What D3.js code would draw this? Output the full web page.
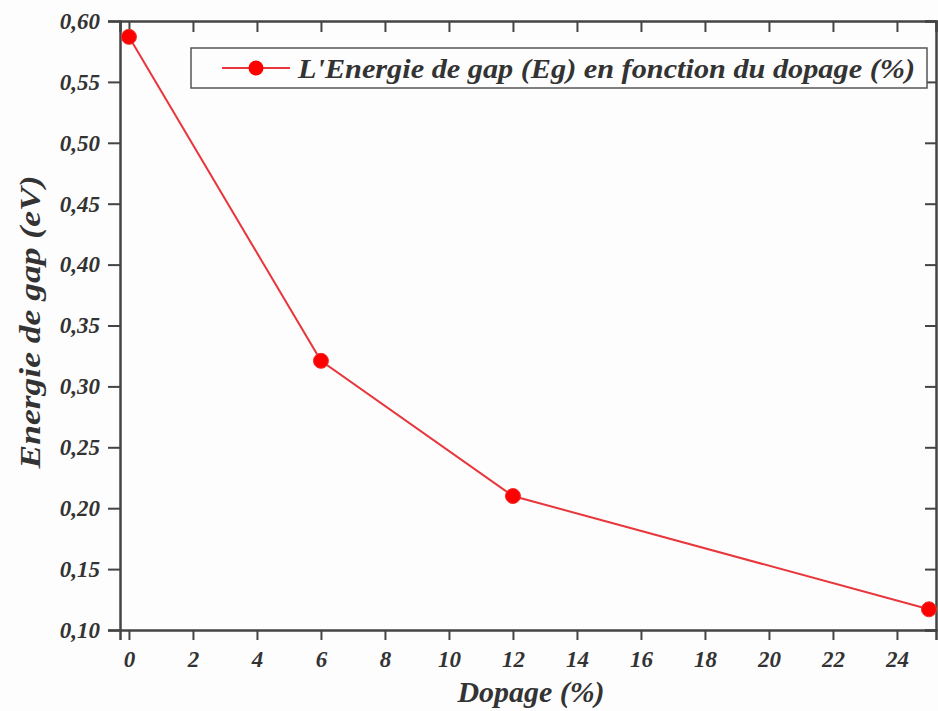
<!DOCTYPE html>
<html>
<head>
<meta charset="utf-8">
<script src="https://cdn.jsdelivr.net/npm/d3@7"></script>
<style>
body { margin: 0; background: #fdfdfd; }
text { font-family: "Liberation Serif", "Times New Roman", serif; font-weight: bold; font-style: italic; fill: #333; }
</style>
</head>
<body>
<script>
// data
var dopage = [0, 6, 12, 25];
var gap = [0.587, 0.321, 0.21, 0.117];
var xTicks = [0, 2, 4, 6, 8, 10, 12, 14, 16, 18, 20, 22, 24];
var yTicks = [0.10, 0.15, 0.20, 0.25, 0.30, 0.35, 0.40, 0.45, 0.50, 0.55, 0.60];
var legendLabel = "L'Energie de gap (Eg) en fonction du dopage (%)";

var w = 938, h = 711;
var mLeft = 120, mRight = 936, mTop = 21, mBottom = 630;

var svg = d3.select("body").append("svg")
    .attr("width", w)
    .attr("height", h);

var x = d3.scaleLinear().domain([-0.28, 25.22]).range([mLeft, mRight]);
var y = d3.scaleLinear().domain([0.10, 0.60]).range([mBottom, mTop]);

var fmt = function(d) { return d3.format(".2f")(d).replace(".", ","); };
var minorX = d3.range(1, 26, 2);
var minorY = d3.range(0.125, 0.6, 0.05);

// bottom axis
var gx = svg.append("g").attr("transform", "translate(0," + mBottom + ")");
gx.call(d3.axisBottom(x).tickValues(minorX).tickSize(6).tickFormat(""));
gx.call(d3.axisBottom(x).tickValues(xTicks).tickSize(10).tickPadding(11).tickFormat(d3.format("d")));

// left axis
var gy = svg.append("g").attr("transform", "translate(" + mLeft + ",0)");
gy.call(d3.axisLeft(y).tickValues(minorY).tickSize(6).tickFormat(""));
gy.call(d3.axisLeft(y).tickValues(yTicks).tickSize(12).tickPadding(8).tickFormat(fmt));

// top axis, ticks inward
var gt = svg.append("g").attr("transform", "translate(0," + mTop + ")");
gt.call(d3.axisBottom(x).tickValues(minorX).tickSize(6).tickFormat(""));
gt.call(d3.axisBottom(x).tickValues(xTicks).tickSize(11).tickFormat(""));

// right axis, ticks inward
var gr = svg.append("g").attr("transform", "translate(" + mRight + ",0)");
gr.call(d3.axisLeft(y).tickValues(minorY).tickSize(6).tickFormat(""));
gr.call(d3.axisLeft(y).tickValues(yTicks).tickSize(11).tickFormat(""));

svg.selectAll(".domain").attr("stroke", "#444").attr("stroke-width", 2.5);
svg.selectAll(".tick line").attr("stroke", "#444").attr("stroke-width", 2);
svg.selectAll(".tick text").attr("font-size", 23).attr("font-family", null).attr("fill", "#333");

// line and points
var line = d3.line()
    .x(function(d, i) { return x(dopage[i]); })
    .y(function(d) { return y(d); });

svg.append("path")
    .datum(gap)
    .attr("d", line)
    .attr("fill", "none")
    .attr("stroke", "#e8363c")
    .attr("stroke-width", 2);

svg.selectAll("circle.pt")
    .data(gap)
    .enter()
    .append("circle")
    .attr("class", "pt")
    .attr("cx", function(d, i) { return x(dopage[i]); })
    .attr("cy", function(d) { return y(d); })
    .attr("r", 7.5)
    .attr("fill", "#ff0000")
    .attr("stroke", "#f03030")
    .attr("stroke-width", 1);

// legend
var lg = svg.append("g");
lg.append("rect")
    .attr("x", 191).attr("y", 48)
    .attr("width", 736).attr("height", 40)
    .attr("fill", "#fdfdfd")
    .attr("stroke", "#555")
    .attr("stroke-width", 1.5);
lg.append("line")
    .attr("x1", 222).attr("x2", 290)
    .attr("y1", 68).attr("y2", 68)
    .attr("stroke", "#e8363c").attr("stroke-width", 2);
lg.append("circle")
    .attr("cx", 256).attr("cy", 68).attr("r", 7.5)
    .attr("fill", "#ff0000");
lg.append("text")
    .attr("x", 298).attr("y", 78)
    .attr("font-size", 28)
    .attr("textLength", 617)
    .attr("lengthAdjust", "spacingAndGlyphs")
    .attr("fill", "#222")
    .text(legendLabel);

// axis titles
svg.append("text")
    .attr("x", 531).attr("y", 702)
    .attr("text-anchor", "middle")
    .attr("font-size", 30)
    .attr("textLength", 147)
    .attr("lengthAdjust", "spacingAndGlyphs")
    .text("Dopage (%)");

svg.append("text")
    .attr("transform", "translate(40," + 322 + ") rotate(-90)")
    .attr("text-anchor", "middle")
    .attr("font-size", 30)
    .attr("textLength", 293)
    .attr("lengthAdjust", "spacingAndGlyphs")
    .text("Energie de gap (eV)");
</script>
</body>
</html>
